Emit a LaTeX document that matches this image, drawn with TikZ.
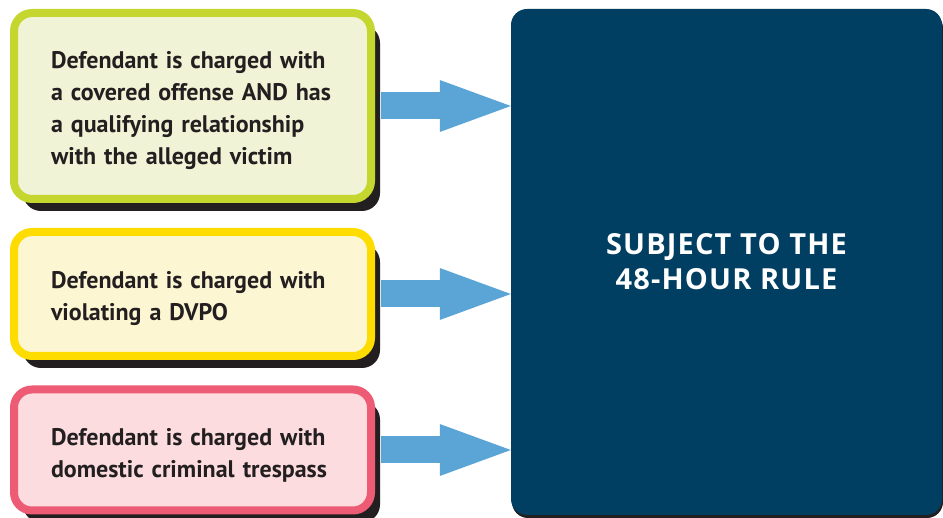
\documentclass[tikz,border=0pt]{standalone}
\usepackage{fontspec}
\setmainfont{PT Sans}
\newfontfamily\headfont{Open Sans}[LetterSpace=4]
\usepackage{tikz}
\usetikzlibrary{arrows, arrows.meta}
\usetikzlibrary{positioning}
\usetikzlibrary{shadows}
\usepackage{xcolor}

\definecolor{limeline}{HTML}{C5D72F}
\definecolor{limefill}{HTML}{F0F3D5}
\definecolor{sunline}{HTML}{FFDC00}
\definecolor{sunfill}{HTML}{FDF6D3}
\definecolor{roseline}{HTML}{EE5B75}
\definecolor{rosefill}{HTML}{FCDCDF}
\definecolor{flowblue}{HTML}{5AA5D5}
\definecolor{rulenavy}{HTML}{003F62}
\definecolor{inkdark}{HTML}{231F20}

\tikzset{
  casebox/.style={draw, line width=8pt, rounded corners=18pt, align=left,
    inner xsep=37pt, inner ysep=0pt, text width=283pt, minimum width=357pt,
    text=inkdark, font=\fontsize{24}{32}\selectfont\bfseries,
    execute at begin node={\rule{0pt}{27pt}},
    drop shadow={shadow xshift=9pt, shadow yshift=-12pt, fill=inkdark, opacity=1}},
  flow/.style={line width=27pt, flowblue, shorten <=6pt,
    -{Triangle[length=71pt, width=52pt, line width=0pt]}}
}

\begin{document}
\begin{tikzpicture}[x=1pt, y=-1pt]
\useasboundingbox (0,0) rectangle (943,518);

%boxes
\node [casebox, draw=limeline, fill=limefill, minimum height=186pt] (covered) at (192.5,106)
  {Defendant is charged with\\a covered offense AND has\\a qualifying relationship\\with the alleged victim};
\node [casebox, draw=sunline, fill=sunfill, minimum height=124pt] (dvpo) at (192.5,294)
  {Defendant is charged with\\violating a DVPO};
\node [casebox, draw=roseline, fill=rosefill, minimum height=121pt] (trespass) at (192.5,450)
  {Defendant is charged with\\domestic criminal trespass};

%rule
\node [fill=rulenavy, rounded corners=16pt, minimum width=431pt, minimum height=506pt,
  text=white, align=center, font=\headfont\fontsize{29}{35}\selectfont\bfseries,
  drop shadow={shadow xshift=1pt, shadow yshift=-3pt, fill=inkdark, opacity=1}] (rule) at (726.5,262)
  {SUBJECT TO THE\\48-HOUR RULE};

%arrows
\draw [flow] (covered.east) -- (covered.east -| rule.west);
\draw [flow] (dvpo.east) -- (dvpo.east -| rule.west);
\draw [flow] (trespass.east) -- (trespass.east -| rule.west);

\end{tikzpicture}
\end{document}
